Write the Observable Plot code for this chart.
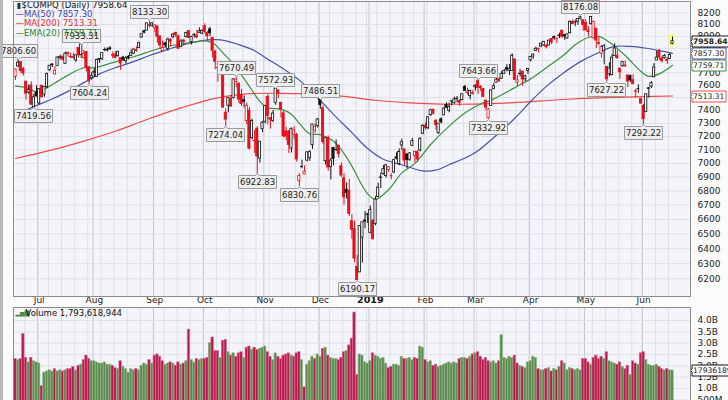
<!DOCTYPE html>
<html>
<head>
<meta charset="utf-8">
<script src="https://cdn.jsdelivr.net/npm/d3@7"></script>
<script src="https://cdn.jsdelivr.net/npm/@observablehq/plot@0.6"></script>
<style>
html,body{margin:0;padding:0;background:#fbfbfc;}
#wrap{position:relative;width:728px;height:400px;overflow:hidden;}
#wrap svg{display:block;}
#edge{position:absolute;left:0;top:0;width:3px;height:400px;background:#b9b9bd;}
</style>
</head>
<body>
<div id="wrap"><div id="edge"></div></div>
<script>
// ---------------- DATA ----------------
const firstDay = "2018-06-19";
const holidays = ["2018-07-04","2018-09-03","2018-11-22","2018-12-05","2018-12-25","2019-01-01","2019-01-21","2019-02-18","2019-04-19","2019-05-27"];
const priorClose = 7747.03;

const opens = [
// Jun 2018
7664,7750,7786,7731,7627,7541,7597,7426,7540,
// Jul
7455,7596,7525,7583,7719,7767,7685,7755,7819,7827,7772,7863,7828,7826,7800,7903,7844,7818,7869,7744,7655,
// Aug
7700,7667,7805,7811,7885,7881,7899,7843,7848,7835,7817,7823,7793,7830,7836,7855,7886,7901,7990,8043,8048,8092,8091,
// Sep
8071,8084,7999,7876,7941,7895,7972,7992,8027,8001,7912,7963,7993,8044,7951,8010,8007,8026,8022,
// Oct
8086,8028,8058,7986,7873,7739,7715,7706,7383,7437,7491,7497,7625,7609,7521,7480,7317,7400,7188,7165,7260,7035,7258,
// Nov
7313,7506,7342,7320,7460,7557,7459,7378,7239,7237,7110,7214,7213,6870,6974,6919,7020,7038,7135,7245,7279,
// Dec
7486,7418,7016,7188,6972,7115,7099,7130,6979,6891,6809,6802,6587,6534,6279,6242,6474,6592,6629,
// Jan 2019
6507,6587,6567,6758,6894,6923,6908,6952,6906,6934,7044,6995,7133,7104,7065,7027,7130,7053,7083,7096,7222,
// Feb
7282,7263,7364,7405,7321,7225,7332,7362,7442,7398,7470,7457,7491,7477,7481,7585,7535,7512,7536,
// Mar
7583,7632,7585,7569,7477,7339,7435,7569,7619,7646,7652,7692,7738,7715,7713,7807,7619,7688,7709,7647,7714,
// Apr
7800,7832,7878,7897,7915,7923,7920,7922,7978,7994,7976,8007,8047,8012,7982,8026,8123,8116,8123,8147,8136,
// May
8114,8049,8105,7983,8063,7937,7855,7877,7748,7687,7679,7835,7838,7733,7752,7758,7678,7673,7639,7550,7567,7490,
// Jun
7435,7387,7569,7587,7662,7799,7881,7815,7818,7805,7811,7936];

const highs = [
7728,7806.60,7790,7743,7632,7599,7627,7525,7595,
7568,7597,7588,7697,7757,7772,7749,7827,7843,7838,7868,7864,7860,7858,7845,7905,7933.31,7884,7871,7747,7702,
7734,7810,7813,7860,7903,7902,7914,7868,7871,7875,7817,7834,7830,7839,7887,7895,7913,7949,8021,8051,8110,8133.30,8114,
8098,8084,8001,7960,7950,7985,7982,8024,8035,8008,7974,7974,8035,8047,8000,8024,8050,8071,8054,
8106,8040,8076,7993,7885,7780,7769,7723,7414,7501,7519,7652,7670.49,7621,7566,7514,7459,7424,7333,7247,7275,7162,7314,
7440,7525,7345,7400,7572.93,7563,7466,7394,7271,7247,7265,7276,7225,6925,7024,6982,7083,7094,7292,7298,7339,
7486.51,7436,7188,7204,7036,7118,7175,7136,7003,6924,6859,6884,6635,6587,6356,6554,6579,6655,6641,
6694,6600,6760,6855,6928,6985,6987,6976,6924,7031,7079,7107,7181,7104,7072,7080,7186,7090,7095,7191,7291,
7303,7348,7410,7413,7329,7300,7343,7421,7460,7457,7477,7505,7509,7484,7528,7598,7575,7560,7556,
7602,7643.66,7596,7573,7483,7414,7561,7613,7672,7660,7711,7725,7767,7766,7853,7814,7678,7727,7711,7679,7733,
7829,7850,7910,7900,7940,7954,7933,7965,7980,8002,7988,8027,8050,8014,8018,8131,8139,8137,8147,8176.08,8138,
8142,8084,8165,8128,8070,7998,7923,7931,7749,7781,7847,7937,7885,7733,7791,7795,7678,7680,7683,7566,7602,7498,
7447,7528,7580,7628,7774,7878,7889,7834,7848,7824,7856,7994];

const lows = [
7638,7743,7697,7673,7480,7528,7440,7419.56,7505,
7445,7500,7504,7571,7708,7741,7683,7752,7805,7797,7769,7829,7813,7811,7784,7819,7817,7809,7706,7604.24,7640,
7660,7662,7776,7799,7871,7870,7881,7814,7813,7826,7717,7792,7770,7805,7834,7849,7866,7900,7983,8020,8048,8070,8074,
8033,7941,7890,7872,7907,7876,7912,7980,7988,7891,7904,7920,7988,7982,7927,7985,7979,8024,8013,
8024,7961,7998,7821,7723,7624,7692,7418,7274.04,7382,7426,7490,7580,7455,7430,7420,7292,7100,7175,7075,6922.83,7002,7230,
7297,7290,7257,7308,7440,7492,7342,7190,7169,7073,7076,7176,7009,6830.76,6961,6919,7011,7015,7104,7225,7264,
7410,7142,6988,6942,6880,6982,7088,7038,6897,6698,6743,6620,6463,6305,6190.17,6241,6304,6536,6571,
6501,6457,6556,6751,6818,6914,6893,6931,6880,6924,7025,6983,7096,6981,6960,7015,7124,7004,7009,7085,7213,
7247,7252,7354,7363,7249,7218,7295,7360,7415,7382,7435,7450,7461,7432,7477,7550,7522,7483,7520,
7554,7526,7550,7500,7398,7332.92,7435,7563,7618,7621,7648,7687,7707,7676,7713,7637,7587,7666,7591,7626,7686,
7788,7809,7872,7860,7905,7917,7895,7921,7931,7967,7939,7980,7980,7967,7978,8022,8100,8082,8093,8140,8042,
8049,7996,8094,7977,7897,7919,7818,7763,7627.22,7667,7677,7834,7810,7647,7745,7743,7580,7622,7603,7496,7535,7450,
7292.22,7384,7497,7573,7662,7798,7802,7780,7811,7767,7808,7930];

const closes = [
7725.59,7781.51,7712.95,7692.82,7532.01,7561.63,7445.08,7503.68,7510.30,
7567.69,7502.67,7586.43,7688.39,7756.20,7759.20,7716.61,7823.92,7825.98,7805.72,7855.12,7854.44,7825.30,7820.20,7841.87,7840.77,7932.24,7852.18,7737.42,7630.00,7671.79,
7707.29,7802.69,7812.01,7859.68,7883.66,7888.33,7891.78,7839.11,7819.71,7870.89,7774.12,7806.52,7816.33,7821.01,7859.17,7889.10,7878.46,7945.98,8017.90,8030.04,8109.69,8088.36,8109.54,
8091.25,7995.17,7922.73,7902.54,7924.16,7972.47,7954.23,8013.71,8010.04,7895.79,7956.11,7950.04,8028.23,7986.96,7993.25,8007.47,7990.37,8041.97,8046.35,
8037.30,7999.55,8025.09,7879.51,7788.45,7735.95,7738.02,7422.05,7329.06,7496.89,7430.74,7645.49,7642.70,7485.14,7449.03,7468.63,7437.54,7108.40,7318.34,7167.21,7050.29,7161.65,7305.90,
7434.06,7356.99,7328.85,7375.96,7570.75,7530.89,7406.90,7200.87,7200.00,7136.39,7259.03,7247.87,7028.48,6908.82,6972.25,6938.98,7081.85,7082.70,7291.59,7273.08,7330.54,
7441.51,7158.43,7188.26,6969.25,7020.52,7031.83,7098.31,7070.33,6910.67,6753.73,6783.91,6636.83,6528.41,6332.99,6192.92,6554.36,6579.49,6584.52,6635.28,
6665.94,6463.50,6738.86,6823.47,6897.00,6957.08,6986.07,6971.48,6905.92,7023.83,7034.69,7084.46,7157.23,7020.36,7025.77,7073.46,7164.86,7085.68,7028.29,7183.08,7281.74,
7263.87,7347.54,7402.08,7375.28,7288.35,7298.20,7307.90,7414.62,7420.38,7426.95,7472.41,7486.77,7489.07,7459.71,7527.54,7554.46,7549.30,7554.51,7532.53,
7595.35,7577.57,7576.36,7505.92,7421.46,7408.14,7558.06,7591.03,7643.41,7630.91,7688.53,7714.48,7723.95,7728.97,7838.96,7642.67,7637.54,7691.52,7643.38,7669.17,7729.32,
7828.91,7848.69,7895.55,7891.78,7938.69,7953.88,7909.28,7964.24,7947.36,7984.16,7976.01,8000.23,7996.08,7998.06,8015.27,8120.82,8102.01,8118.68,8146.40,8161.85,8095.39,
8049.64,8036.77,8164.00,8123.29,7963.76,7943.32,7910.59,7916.94,7647.02,7734.49,7822.15,7898.05,7816.28,7702.38,7785.72,7750.84,7628.28,7637.01,7607.35,7547.31,7567.72,7453.15,
7333.02,7527.12,7575.48,7615.55,7742.10,7823.17,7822.57,7792.72,7837.13,7796.66,7845.02,7958.64];

// volume in billions of shares
const volumes = [
2.30,2.25,2.30,3.40,2.35,2.15,2.35,2.20,2.15,
2.10,1.10,1.70,1.75,1.80,1.75,1.85,1.75,1.80,1.75,1.80,1.85,1.85,1.95,1.80,2.00,2.05,2.25,2.45,2.30,2.20,
2.20,2.15,2.10,2.10,2.15,2.05,2.05,2.00,1.90,1.85,2.20,1.95,1.85,1.70,1.85,1.80,1.85,1.80,2.00,2.10,2.05,2.25,2.10,
2.45,2.50,2.40,2.20,2.05,2.10,2.15,2.10,2.00,2.15,2.05,2.10,2.20,3.60,2.25,2.15,2.30,2.25,2.30,
2.30,2.35,3.00,3.25,2.65,2.65,2.35,3.10,3.15,2.60,2.45,2.55,2.40,2.55,2.60,2.35,2.80,2.85,2.70,2.80,2.70,2.75,2.80,
2.85,2.60,2.40,2.25,2.55,2.40,2.30,2.45,2.50,2.55,2.45,2.40,2.55,2.60,2.25,1.05,2.05,2.20,2.40,2.30,2.50,
2.40,2.75,2.80,2.45,2.35,2.30,2.30,2.25,2.35,2.60,2.65,2.90,3.20,4.35,1.60,2.50,2.45,2.15,2.10,
2.20,2.55,2.45,2.40,2.30,2.35,2.10,1.90,1.95,2.05,2.05,2.00,2.40,2.30,2.30,2.35,2.25,2.35,2.30,2.85,2.80,
2.25,2.15,2.20,2.00,2.05,1.95,2.00,2.05,2.10,2.15,2.10,2.15,2.10,2.30,2.35,2.35,2.30,2.40,2.50,
2.55,2.60,2.40,2.25,2.35,2.20,2.15,2.20,2.10,2.20,3.35,2.35,2.30,2.40,2.35,2.45,2.10,2.00,1.95,1.90,2.15,
2.20,2.40,2.35,1.85,1.80,1.80,1.85,1.90,1.75,1.85,1.80,1.95,2.20,2.10,1.80,1.90,1.85,1.80,1.85,1.80,2.30,
2.30,2.15,2.05,2.35,2.45,2.30,2.40,2.30,2.60,2.20,2.15,2.10,2.05,2.15,1.95,1.85,2.00,1.60,2.20,2.10,2.05,2.55,
2.60,2.25,2.05,2.00,2.00,2.05,1.95,1.85,1.80,1.85,1.80,1.793618944];

// moving averages (trading-day index, value)
const ma50Day = [0,7,14,20,26,32,38,45,51,58,64,70,78,85,91,96,102,108,115,121,128,134,140,147,155,160,165,170,175,183,190,196,202,208,215,222,228,234,240,245,250];
const ma50Val = [7360,7430,7490,7550,7620,7690,7740,7790,7840,7890,7930,7960,7970,7930,7880,7810,7730,7640,7500,7370,7230,7110,7030,6990,6945,6950,6990,7030,7080,7210,7340,7470,7590,7690,7790,7865,7915,7915,7900,7880,7857.30];
const ma200Day = [0,12,25,38,50,63,76,88,100,112,125,137,150,162,175,188,200,212,225,238,250];
const ma200Val = [7036,7090,7160,7240,7330,7420,7495,7530,7535,7530,7510,7480,7460,7450,7450,7460,7475,7490,7500,7508,7513.31];
const ema20Day = [0,4,8,12,16,20,26,30,36,45,54,60,66,73,76,79,83,86,89,93,96,101,105,108,112,116,121,124,128,131,134,137,142,147,152,158,164,171,177,181,190,196,202,209,213,218,222,226,232,238,241,245,250];
const ema20Val = [7592,7580,7547,7580,7630,7680,7740,7740,7775,7830,7894,7925,7945,7960,7930,7860,7770,7680,7590,7470,7420,7410,7370,7300,7220,7215,7165,7100,6980,6870,6780,6740,6810,6930,7000,7140,7260,7380,7450,7480,7580,7650,7740,7850,7930,7990,8000,7950,7840,7710,7670,7690,7759.71];

const highMarks = [1,25,51,84,99,116,176,215];
const lowMarks = [7,28,80,92,108,130,180,225,239];
const priceTicks = [6200,6300,6400,6500,6600,6700,6800,6900,7000,7100,7200,7300,7400,7500,7600,7700,7800,7900,8000,8100,8200];
const volTicks = [0.5,1,1.5,2,2.5,3,3.5,4];

// ---------------- BUILD ----------------
const N = closes.length;
const hol = new Set(holidays);
const dates = [];
for (let d = new Date(firstDay + "T00:00:00Z"); dates.length < N; d = new Date(d.getTime() + 864e5)) {
  const wd = d.getUTCDay();
  if (wd === 0 || wd === 6 || hol.has(d.toISOString().slice(0, 10))) continue;
  dates.push(new Date(d));
}
const bars = d3.range(N).map(i => {
  const prev = i ? closes[i - 1] : priorClose;
  return {i, o: opens[i], h: highs[i], l: lows[i], c: closes[i], v: volumes[i],
    up: closes[i] >= prev, hollow: closes[i] > opens[i]};
});
const monthStarts = d3.range(1, N).filter(i => dates[i].getUTCMonth() !== dates[i - 1].getUTCMonth());
const weekStarts = d3.range(1, N).filter(i => dates[i].getUTCDay() < dates[i - 1].getUTCDay());
const monthLabel = i => dates[i].getUTCMonth() === 0 ? String(dates[i].getUTCFullYear()) : d3.utcFormat("%b")(dates[i]);
const pts = (days, vals) => days.map((d, k) => ({i: d, v: vals[k]}));

const FONT = "DejaVu Sans, Verdana, sans-serif";
const RED = "#e8101a", BLK = "#111";
const BG = "#f4f5fa", GRID = "#dfe0e8", MGRID = "#c4c6cf", FRAME = "#8c8c8c";
const XS = {type: "linear", domain: [0, N - 1], range: [15, 672], axis: null};
const last = bars[N - 1];

const hasTip = typeof Plot.tip === "function";
function box(data, o) {
  if (hasTip) return Plot.tip(data, {pathFilter: "none", r: 0, textPadding: 1.5, pointerSize: 4,
    fontSize: 8.5, fontFamily: FONT, lineHeight: 1, ...o});
  return Plot.text(data, {x: o.x, y: o.y, text: o.title, frameAnchor: o.frameAnchor, fontSize: 8.5,
    dy: o.anchor === "bottom" ? -8 : o.anchor === "top" ? 8 : 0, dx: o.anchor === "left" ? 20 : 0,
    fill: "#111", stroke: "white", strokeWidth: 2});
}
const sideBox = (val, stroke, extra = {}) => box([val], {y: d => d, frameAnchor: "right", anchor: "left",
  title: d => d.toFixed(2), fill: "white", stroke, fontSize: 7.6, textPadding: 1, pointerSize: 3, ...extra});

const price = Plot.plot({
  width: 728, height: 307,
  marginLeft: 13, marginRight: 38, marginTop: 1, marginBottom: 11,
  style: {background: "transparent", fontFamily: FONT, fontSize: "9px", color: "#222"},
  x: XS,
  y: {type: "log", domain: [6086, 8298], axis: null},
  marks: [
    Plot.frame({fill: BG, stroke: null}),
    Plot.ruleX(weekStarts, {x: d => d - 0.5, stroke: GRID, strokeWidth: 1}),
    Plot.ruleX(monthStarts, {x: d => d - 0.5, stroke: MGRID, strokeWidth: 1}),
    Plot.ruleY(priceTicks, {stroke: GRID, strokeWidth: 1}),
    Plot.line(pts(ma200Day, ma200Val), {x: "i", y: "v", stroke: "#ee4b4b", strokeWidth: 1.2, curve: "catmull-rom"}),
    Plot.line(pts(ma50Day, ma50Val), {x: "i", y: "v", stroke: "#4a52b0", strokeWidth: 1.2, curve: "catmull-rom"}),
    Plot.line(pts(ema20Day, ema20Val), {x: "i", y: "v", stroke: "#3f8f3f", strokeWidth: 1.2, curve: "catmull-rom"}),
    Plot.rect([last], {x1: d => d.i - 0.9, x2: d => d.i + 0.9, y1: "l", y2: "h", fill: "#ffff5a", insetTop: -2, insetBottom: -2}),
    Plot.ruleX(bars, {x: "i", y1: "l", y2: "h", stroke: d => d.up ? BLK : RED, strokeWidth: 1}),
    Plot.rect(bars, {x1: d => d.i - 0.42, x2: d => d.i + 0.42,
      y1: d => Math.min(d.o, d.c), y2: d => Math.max(d.o, d.c),
      fill: d => d.hollow ? "white" : (d.up ? BLK : RED), stroke: d => d.up ? BLK : RED, strokeWidth: 0.8}),
    Plot.axisY({anchor: "right", ticks: priceTicks, tickSize: 0, tickPadding: 7, tickFormat: d => String(d), fontSize: 9, fill: "#222", label: null}),
    Plot.text(monthStarts.filter(i => dates[i].getUTCMonth() !== 0), {x: d => d, frameAnchor: "bottom", dy: 6, text: monthLabel, fontSize: 9, fill: "#222"}),
    Plot.text(monthStarts.filter(i => dates[i].getUTCMonth() === 0), {x: d => d, frameAnchor: "bottom", dy: 6, text: monthLabel, fontSize: 9.5, fontWeight: "bold", fill: "#111"}),
    box(highMarks, {x: d => d, y: d => highs[d], title: d => highs[d].toFixed(2), anchor: "bottom", fill: "#eeeeee", stroke: "#9a9a9a"}),
    box(lowMarks, {x: d => d, y: d => lows[d], title: d => lows[d].toFixed(2), anchor: "top", fill: "#eeeeee", stroke: "#9a9a9a"}),
    sideBox(ma200Val[ma200Val.length - 1], "#ee4b4b"),
    sideBox(ema20Val[ema20Val.length - 1], "#3f8f3f"),
    sideBox(ma50Val[ma50Val.length - 1], "#4a52b0"),
    sideBox(last.c, "#111", {fontWeight: "bold"}),
    // legend
    Plot.text(["\u25AE"], {frameAnchor: "top-left", dx: 3, dy: 4, fontSize: 8, fill: "#333", lineAnchor: "middle", textAnchor: "start"}),
    Plot.text([`$COMPQ (Daily) ${last.c.toFixed(2)}`], {frameAnchor: "top-left", dx: 8, dy: 4, fontSize: 8.5, fill: "#111", lineAnchor: "middle", textAnchor: "start"}),
    Plot.text([`\u2014MA(50) ${ma50Val[ma50Val.length - 1].toFixed(2)}`], {frameAnchor: "top-left", dx: 2, dy: 13, fontSize: 8.5, fill: "#3c44a8", lineAnchor: "middle", textAnchor: "start"}),
    Plot.text([`\u2014MA(200) ${ma200Val[ma200Val.length - 1].toFixed(2)}`], {frameAnchor: "top-left", dx: 2, dy: 22, fontSize: 8.5, fill: "#e03030", lineAnchor: "middle", textAnchor: "start"}),
    Plot.text([`\u2014EMA(20) ${ema20Val[ema20Val.length - 1].toFixed(2)}`], {frameAnchor: "top-left", dx: 2, dy: 31.5, fontSize: 8.5, fill: "#2f832f", lineAnchor: "middle", textAnchor: "start"}),
    Plot.frame({stroke: FRAME})
  ]
});

const vol = Plot.plot({
  width: 728, height: 96,
  marginLeft: 13, marginRight: 38, marginTop: 0, marginBottom: 0,
  style: {background: "transparent", fontFamily: FONT, fontSize: "9px", color: "#222"},
  x: XS,
  y: {type: "linear", domain: [0, 4], range: [103.6, 13], axis: null},
  marks: [
    Plot.frame({fill: BG, stroke: null}),
    Plot.ruleX(weekStarts, {x: d => d - 0.5, stroke: GRID}),
    Plot.ruleX(monthStarts, {x: d => d - 0.5, stroke: MGRID}),
    Plot.ruleY(volTicks, {stroke: GRID}),
    Plot.rectY(bars, {x1: d => d.i - 0.46, x2: d => d.i + 0.46, y1: 0, y2: "v",
      fill: d => d.up ? "#5d8b51" : "#b71a4e", stroke: d => d.up ? "#8fb583" : "#d9688e", strokeWidth: 0.6}),
    Plot.axisY({anchor: "right", ticks: volTicks, tickSize: 0, tickPadding: 7,
      tickFormat: v => v < 1 ? `${v * 1000}M` : `${v.toFixed(1)}B`, fontSize: 9, fill: "#222", label: null}),
    Plot.text(["\u2582\u2585\u2587"], {frameAnchor: "top-left", dx: 2, dy: 6, fontSize: 6, fill: "#4d8a42", lineAnchor: "middle", textAnchor: "start"}),
    Plot.text([`Volume ${d3.format(",")(Math.round(last.v * 1e9))}`], {frameAnchor: "top-left", dx: 12, dy: 6, fontSize: 8.5, fill: "#111", lineAnchor: "middle", textAnchor: "start"}),
    box([last.v], {y: d => d, frameAnchor: "right", anchor: "left", title: d => String(Math.round(d * 1e9)), fill: "white", stroke: "#111", fontSize: 7.6, textPadding: 1, pointerSize: 3}),
    Plot.frame({stroke: FRAME})
  ]
});

document.getElementById("wrap").append(price, vol);
</script>
</body>
</html>
